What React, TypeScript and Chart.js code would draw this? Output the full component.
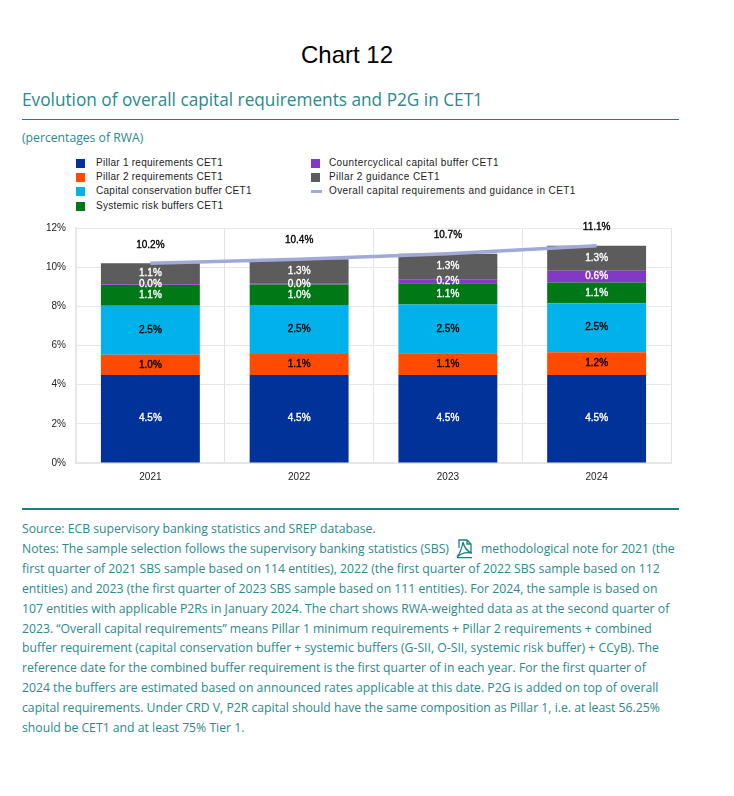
import React, { useEffect, useRef } from "react";
import { Chart, registerables } from "chart.js";

Chart.register(...registerables);

const categories = ["2021", "2022", "2023", "2024"];
const pillar1 = [4.5, 4.5, 4.5, 4.5];
const pillar2 = [1.03, 1.07, 1.1, 1.16];
const conservation = [2.5, 2.5, 2.5, 2.5];
const systemic = [1.06, 1.04, 1.08, 1.06];
const countercyclical = [0.04, 0.04, 0.2, 0.6];
const guidance = [1.07, 1.26, 1.3, 1.27];
const overall = [10.2, 10.41, 10.68, 11.09];

const barSeries = [
  { label: "Pillar 1 requirements CET1", data: pillar1, color: "#003299", text: "#ffffff" },
  { label: "Pillar 2 requirements CET1", data: pillar2, color: "#ff4b00", text: "#000000" },
  { label: "Capital conservation buffer CET1", data: conservation, color: "#00b1ea", text: "#000000" },
  { label: "Systemic risk buffers CET1", data: systemic, color: "#007816", text: "#ffffff" },
  { label: "Countercyclical capital buffer CET1", data: countercyclical, color: "#8139c6", text: "#ffffff" },
  { label: "Pillar 2 guidance CET1", data: guidance, color: "#5c5c5c", text: "#ffffff" },
];
const lineLabel = "Overall capital requirements and guidance in CET1";
const lineColor = "#a0a9d8";

const heading = "Evolution of overall capital requirements and P2G in CET1";
const unit = "(percentages of RWA)";
const noteLines = [
  "Source: ECB supervisory banking statistics and SREP database.",
  "Notes: The sample selection follows the supervisory banking statistics (SBS)",
  "first quarter of 2021 SBS sample based on 114 entities), 2022 (the first quarter of 2022 SBS sample based on 112",
  "entities) and 2023 (the first quarter of 2023 SBS sample based on 111 entities). For 2024, the sample is based on",
  "107 entities with applicable P2Rs in January 2024. The chart shows RWA-weighted data as at the second quarter of",
  "2023. “Overall capital requirements” means Pillar 1 minimum requirements + Pillar 2 requirements + combined",
  "buffer requirement (capital conservation buffer + systemic buffers (G-SII, O-SII, systemic risk buffer) + CCyB). The",
  "reference date for the combined buffer requirement is the first quarter of in each year. For the first quarter of",
  "2024 the buffers are estimated based on announced rates applicable at this date. P2G is added on top of overall",
  "capital requirements. Under CRD V, P2R capital should have the same composition as Pillar 1, i.e. at least 56.25%",
  "should be CET1 and at least 75% Tier 1.",
];
const noteLine2Tail = "methodological note for 2021 (the";

const TEAL = "#2a8a8a";
const RULE = "#1a8080";
const NOTE_FONT = '"Open Sans", sans-serif';
const CHART_FONT = '"Liberation Sans", Arial, sans-serif';

const valueLabels = {
  id: "valueLabels",
  afterDatasetsDraw(chart: any) {
    const { ctx } = chart;
    ctx.save();
    ctx.font = `10px ${CHART_FONT}`;
    ctx.textAlign = "center";
    ctx.textBaseline = "middle";
    ctx.lineWidth = 0.35;
    chart.data.datasets.forEach((ds: any, i: number) => {
      const meta = chart.getDatasetMeta(i);
      meta.data.forEach((el: any, j: number) => {
        const text = ds.data[j].toFixed(1) + "%";
        const isLine = ds.type === "line";
        const color = isLine ? "#000000" : barSeries[i].text;
        const y = isLine ? el.y - 18.5 : (el.y + el.base) / 2;
        ctx.fillStyle = color;
        ctx.strokeStyle = color;
        ctx.fillText(text, el.x, y);
        ctx.strokeText(text, el.x, y);
      });
    });
    ctx.restore();
  },
};

function LegendItem({ x, y, label, color, isLine, textLeft, spacing }: any) {
  return (
    <div style={{ position: "absolute", left: x, top: y - 7, height: 14, whiteSpace: "nowrap" }}>
      <span
        style={{
          position: "absolute",
          left: 0,
          top: isLine ? 6 : 3,
          width: isLine ? 11 : 9,
          height: isLine ? 3 : 9,
          background: color,
        }}
      />
      <span
        style={{
          position: "absolute",
          left: textLeft,
          top: 0,
          font: `10px/14px ${CHART_FONT}`,
          letterSpacing: spacing,
          color: "#222",
        }}
      >
        {label}
      </span>
    </div>
  );
}

export default function App() {
  const ref = useRef<HTMLCanvasElement>(null);

  useEffect(() => {
    const chart = new Chart(ref.current as HTMLCanvasElement, {
      type: "bar",
      data: {
        labels: categories,
        datasets: [
          ...barSeries.map((s) => ({
            type: "bar" as const,
            label: s.label,
            data: s.data,
            backgroundColor: s.color,
            stack: "total",
            categoryPercentage: 0.665,
            barPercentage: 1,
            order: 2,
          })),
          {
            type: "line" as const,
            label: lineLabel,
            data: overall,
            borderColor: lineColor,
            borderWidth: 3.5,
            pointRadius: 0,
            tension: 0,
            fill: false,
            order: 1,
          },
        ],
      },
      options: {
        responsive: false,
        animation: false,
        layout: { padding: { left: 0, right: 63, top: 10, bottom: 0 } },
        plugins: { legend: { display: false }, title: { display: false }, tooltip: { enabled: false } },
        scales: {
          x: {
            stacked: true,
            afterFit: (s: any) => {
              s.height = 28;
            },
            grid: { color: "#e2e2e2", lineWidth: 1, drawTicks: false },
            border: { color: "#e6e6e6", width: 2 },
            ticks: { color: "#222", font: { family: CHART_FONT, size: 10 }, padding: 8, maxRotation: 0 },
          },
          y: {
            stacked: true,
            min: 0,
            max: 12,
            afterFit: (s: any) => {
              s.width = 76;
            },
            grid: { color: "#e6e6e6", lineWidth: 1, drawTicks: false },
            border: { color: "#e6e6e6", width: 2 },
            ticks: {
              stepSize: 2,
              color: "#222",
              font: { family: CHART_FONT, size: 10 },
              padding: 10,
              callback: (v: any) => v + "%",
            },
          },
        },
      },
      plugins: [valueLabels],
    } as any);
    return () => chart.destroy();
  }, []);

  const rows = [163, 177, 191, 206];
  const noteStyle: any = {
    position: "absolute",
    font: `13px/20px ${NOTE_FONT}`,
    color: TEAL,
    whiteSpace: "nowrap",
    transform: "scaleX(0.94)",
    transformOrigin: "left center",
  };

  return (
    <div style={{ position: "absolute", left: 0, top: 0, width: 734, height: 796, background: "#fff", overflow: "hidden" }}>
      <div style={{ position: "absolute", left: 0, width: 694, top: 42, textAlign: "center", font: `24px/26px ${CHART_FONT}`, color: "#000" }}>
        Chart 12
      </div>
      <div
        style={{
          position: "absolute",
          left: 22,
          top: 86.5,
          font: `18.5px/24px ${NOTE_FONT}`,
          color: TEAL,
          whiteSpace: "nowrap",
          transform: "scaleX(0.931)",
          transformOrigin: "left center",
        }}
      >
        {heading}
      </div>
      <div style={{ position: "absolute", left: 22, width: 657, top: 119, height: 1, background: RULE }} />
      <div style={{ position: "absolute", left: 22, top: 130, font: `12.2px/16px ${NOTE_FONT}`, color: TEAL, whiteSpace: "nowrap" }}>
        {unit}
      </div>

      {barSeries.slice(0, 4).map((s, i) => (
        <LegendItem key={s.label} x={76} y={rows[i]} label={s.label} color={s.color} textLeft={20} spacing="0.27px" />
      ))}
      {barSeries.slice(4).map((s, i) => (
        <LegendItem key={s.label} x={311} y={rows[i]} label={s.label} color={s.color} textLeft={18} spacing="0.4px" />
      ))}
      <LegendItem x={311} y={rows[2]} label={lineLabel} color={lineColor} isLine textLeft={18} spacing="0.42px" />

      <canvas ref={ref} width={734} height={279} style={{ position: "absolute", left: 0, top: 212, width: 734, height: 279 }} />

      <div style={{ position: "absolute", left: 22, width: 657, top: 508, height: 2, background: RULE }} />
      {noteLines.map((t, i) => (
        <div key={i} style={{ ...noteStyle, left: 22, top: 518 + i * 19.9 }}>
          {t}
        </div>
      ))}
      <svg style={{ position: "absolute", left: 456, top: 539 }} width="18" height="20" viewBox="0 0 18 20" fill="none" stroke={RULE} strokeWidth="1.3">
        <path d="M3 9 V1 H11 L15 5 V13 M11 1 V5 H15" />
        <path d="M7 3 C8 8 10 12 16 14 C11 13 5 14 1 18 C4 14 6 9 7 3 Z" />
        <path d="M1 18.6 H16" />
      </svg>
      <div style={{ ...noteStyle, left: 481, top: 518 + 19.9 }}>{noteLine2Tail}</div>
    </div>
  );
}
